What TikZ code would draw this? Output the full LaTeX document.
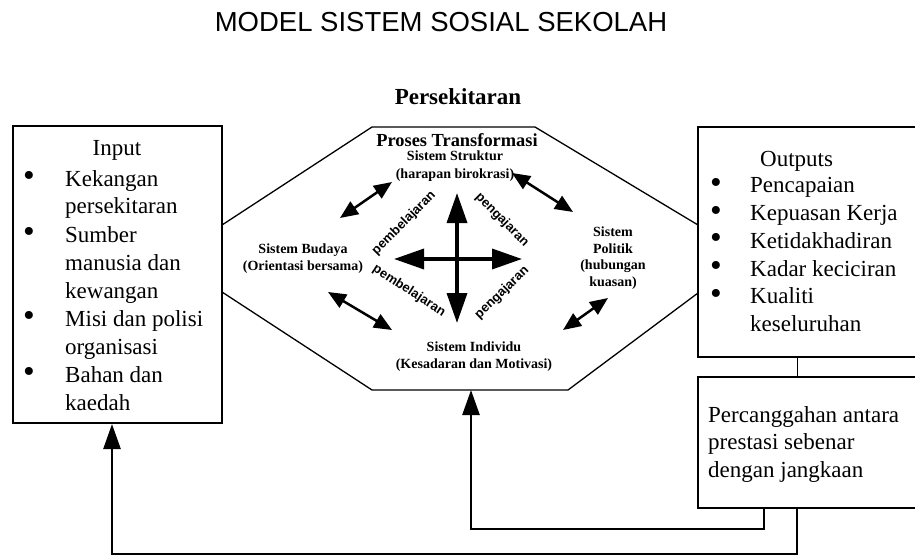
\documentclass[tikz,border=0pt]{standalone}
\usepackage{fontspec}
\usepackage{graphicx}
\setmainfont{Liberation Serif}
\newfontfamily\arialfont{Liberation Sans}
\usetikzlibrary{arrows.meta}

% list bullet, a little heavier than the plain glyph
\newcommand{\lbul}{\raisebox{-0.6pt}{\scalebox{1.45}{•}}}

\tikzset{
  box/.style={draw, line width=2pt, rectangle, inner sep=0pt},
  octline/.style={line width=1.3pt, line join=miter},
  bigtxt/.style={font=\fontsize{23}{28}\selectfont, inner sep=0pt},
  systxt/.style={font=\fontsize{14}{17}\selectfont\bfseries, align=center, inner sep=0pt},
  flowlbl/.style={font=\arialfont\fontsize{13}{15}\selectfont\bfseries, inner sep=0pt},
  crossarrow/.style={line width=3.5pt, {Triangle[length=30pt,width=20pt]}-{Triangle[length=30pt,width=20pt]}},
  linkarrow/.style={line width=2.5pt, {Triangle[length=18pt,width=15pt]}-{Triangle[length=18pt,width=15pt]}},
  feedback/.style={line width=2.5pt, -{Triangle[length=25pt,width=17pt]}},
}

\begin{document}
\begin{tikzpicture}[x=1pt,y=-1pt]
\useasboundingbox (0,0) rectangle (915,556);

% headings
\node[font=\arialfont\fontsize{27.5}{32}\selectfont, inner sep=0pt] (title) at (441,22) {MODEL SISTEM SOSIAL SEKOLAH};
\node[font=\fontsize{23}{28}\selectfont\bfseries, inner sep=0pt] (env) at (458,97) {Persekitaran};

% transformation process (octagon)
\coordinate (o1) at (222,225);
\coordinate (o2) at (372,127);
\coordinate (o3) at (535,127);
\coordinate (o4) at (698,225);
\coordinate (o5) at (698,293);
\coordinate (o6) at (568,390);
\coordinate (o7) at (372,390);
\coordinate (o8) at (222,292);
\draw[octline] (o1) -- (o2) -- (o3) -- (o4) (o5) -- (o6) -- (o7) -- (o8);
\coordinate (octb) at (471,390);

% input, output and discrepancy boxes
\node[box, minimum width=209pt, minimum height=297pt] (input) at (117.5,274.5) {};
\node[box, minimum width=227pt, minimum height=230pt] (output) at (811.5,242) {};
\node[box, minimum width=227pt, minimum height=131pt] (gap) at (811.5,442.5) {};

% input list
\node[bigtxt] (intitle) at (117,150) {Input};
\node[bigtxt, anchor=base west] (inlist) at (23,186) {%
  \begin{tabular}[t]{@{}p{42pt}@{}l@{}}
  \lbul & Kekangan\\
    & persekitaran\\
  \lbul & Sumber\\
    & manusia dan\\
    & kewangan\\
  \lbul & Misi dan polisi\\
    & organisasi\\
  \lbul & Bahan dan\\
    & kaedah
  \end{tabular}};

% output list
\node[bigtxt, anchor=base west] (outtitle) at (760,167) {Outputs};
\node[bigtxt, font=\fontsize{23}{27.7}\selectfont, anchor=base west] (outlist) at (710,193) {%
  \begin{tabular}[t]{@{}p{40pt}@{}l@{}}
  \lbul & Pencapaian\\
  \lbul & Kepuasan Kerja\\
  \lbul & Ketidakhadiran\\
  \lbul & Kadar keciciran\\
  \lbul & Kualiti\\
    & keseluruhan
  \end{tabular}};

% discrepancy text
\node[bigtxt, font=\fontsize{23}{27.5}\selectfont, anchor=base west] (gaptext) at (708,422) {%
  \begin{tabular}[t]{@{}l@{}}
  Percanggahan antara\\
  prestasi sebenar\\
  dengan jangkaan
  \end{tabular}};

% subsystems
\node[font=\fontsize{18.4}{22}\selectfont\bfseries, inner sep=0pt] (proc) at (457,140) {Proses Transformasi};
\node[systxt, font=\fontsize{14}{18}\selectfont\bfseries] (struktur) at (455,166) {Sistem Struktur\\(harapan birokrasi)};
\node[systxt] (budaya) at (303,258.5) {Sistem Budaya\\(Orientasi bersama)};
\node[systxt, font=\fontsize{14}{16.7}\selectfont\bfseries] (politik) at (613,258) {Sistem\\Politik\\(hubungan\\kuasan)};
\node[systxt] (individu) at (474,356.5) {Sistem Individu\\(Kesadaran dan Motivasi)};

% central cross
\coordinate (cu) at (457,193);
\coordinate (cd) at (457,323);
\coordinate (cl) at (394,259);
\coordinate (cr) at (522,259);
\draw[crossarrow] (cu) -- (cd);
\draw[crossarrow] (cl) -- (cr);

% links between subsystems
\coordinate (ula) at (340,218);
\coordinate (ulb) at (392,182);
\coordinate (ura) at (512,173);
\coordinate (urb) at (573,212);
\coordinate (lla) at (328,292);
\coordinate (llb) at (392,330);
\coordinate (lra) at (563,330);
\coordinate (lrb) at (608,298);
\draw[linkarrow] (ula) -- (ulb);
\draw[linkarrow] (ura) -- (urb);
\draw[linkarrow] (lla) -- (llb);
\draw[linkarrow] (lra) -- (lrb);

% flow labels
\node[flowlbl, rotate=45] (l1) at (404,223) {pembelajaran};
\node[flowlbl, rotate=-45] (l2) at (502,220) {pengajaran};
\node[flowlbl, rotate=-33] (l3) at (409,291) {pembelajaran};
\node[flowlbl, rotate=44] (l4) at (502,293) {pengajaran};

% connections and feedback loops
\coordinate (xa) at (797,0);
\coordinate (xb) at (764,0);
\coordinate (xi) at (112,0);
\draw[line width=1pt] (output.south -| xa) -- (gap.north -| xa);
\draw[feedback] (gap.south -| xb) -- ++(0,20) -| (octb);
\draw[feedback] (gap.south -| xa) -- ++(0,45) -| (input.south -| xi);
\end{tikzpicture}
\end{document}
